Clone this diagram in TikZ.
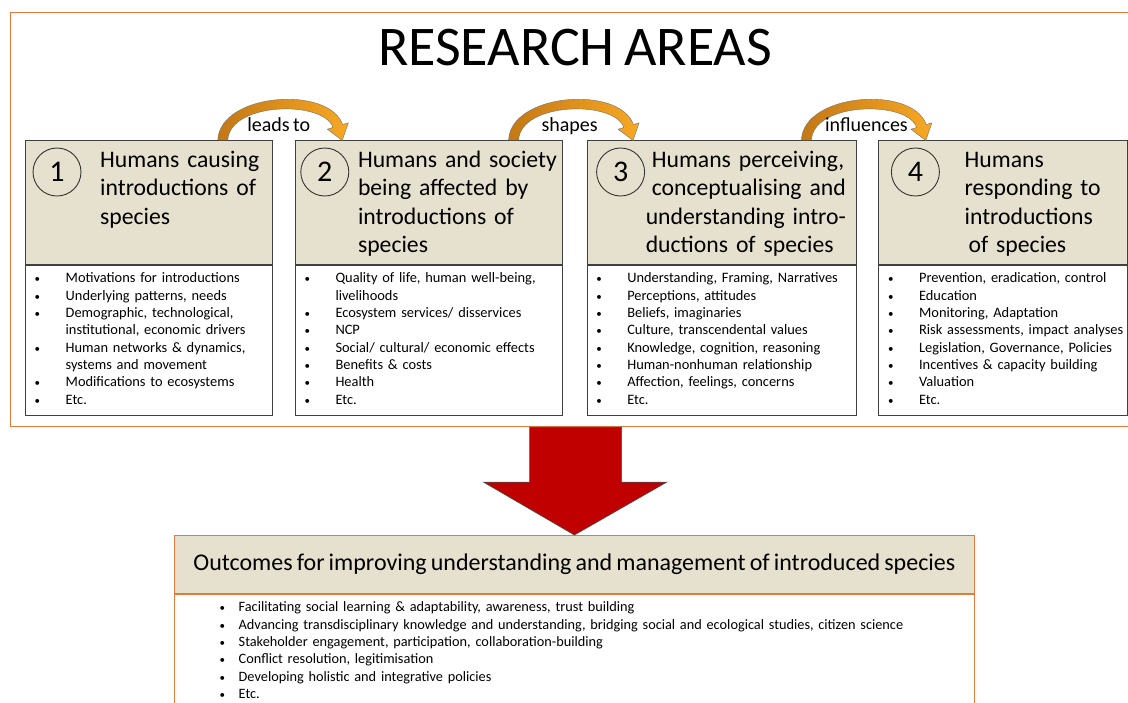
\documentclass[tikz,border=0pt]{standalone}
\usepackage{fontspec}
\setmainfont{Carlito}[WordSpace=0.75]
\usepackage{tikz}
\usetikzlibrary{calc, positioning}

\definecolor{beige}{RGB}{230,225,206}
\definecolor{frameor}{RGB}{226,122,62}
\definecolor{boxline}{RGB}{64,64,64}
\definecolor{arrdark}{RGB}{196,120,20}
\definecolor{arrlight}{RGB}{247,168,36}
\definecolor{bigred}{RGB}{192,0,0}

\newcommand{\itemline}[2][31pt]{\makebox[#1][l]{{\fontsize{11}{11}\selectfont\textbullet}}#2}
\newcommand{\contline}[2][31pt]{\hspace*{#1}#2}

\tikzset{
  head/.style={draw=boxline, fill=beige, line width=0.8pt, anchor=north west, minimum height=124pt, inner sep=0pt},
  body/.style={draw=boxline, fill=white, line width=0.8pt, minimum height=150pt, inner sep=0pt},
  num/.style={circle, draw=black!80, line width=0.9pt, minimum size=48pt, inner sep=0pt, font=\fontsize{30}{30}\selectfont},
  htext/.style={anchor=base west, inner sep=0pt, text width=230pt, align=left, font=\fontsize{23.7}{28.5}\selectfont},
  list/.style={anchor=base west, inner sep=0pt, text width=320pt, align=left, font=\fontsize{14.4}{17.35}\selectfont},
  arrlabel/.style={anchor=base, inner sep=0pt, font=\fontsize{20}{20}\selectfont},
  outhead/.style={draw=frameor, fill=beige, line width=0.8pt, anchor=north west, inner sep=0pt, font=\fontsize{24}{24}\selectfont},
  outbody/.style={draw=frameor, fill=white, line width=0.8pt, inner sep=0pt},
  bendarrow/.pic={
    \path[draw=black!55, line width=0.4pt, left color=arrdark, right color=arrlight]
      (-66,0) .. controls (-64,-47) and (45,-55) .. (58.8,-15.5) -- (64.5,-17.2) -- (58.4,0.5)
      -- (43.5,-10.8) -- (49.2,-12.5) .. controls (40,-40) and (-54,-38) .. (-56,0) -- cycle;
  }
}

\begin{document}
\begin{tikzpicture}[x=1pt, y=-1pt]
    \useasboundingbox (0,0) rectangle (1128,702);
    %外枠とタイトル
    \node[draw=frameor, line width=1.2pt, anchor=north west, minimum width=1130pt, minimum height=414pt, inner sep=0pt] (frame) at (10,12) {};
    \node[anchor=base, inner sep=0pt, font=\fontsize{56}{56}\selectfont] (title) at (575,65) {RESEARCH AREAS};
    %四つの見出しの箱
    \node[head, minimum width=247pt] (h1) at (25,140) {};
    \node[head, minimum width=267pt, right=22pt of h1] (h2) {};
    \node[head, minimum width=269pt, right=24pt of h2] (h3) {};
    \node[head, minimum width=249pt, right=22pt of h3] (h4) {};
    \node[body, minimum width=247pt, below=0pt of h1] (b1) {};
    \node[body, minimum width=267pt, below=0pt of h2] (b2) {};
    \node[body, minimum width=269pt, below=0pt of h3] (b3) {};
    \node[body, minimum width=249pt, below=0pt of h4] (b4) {};
    %番号の丸
    \node[num] (n1) at ($(h1.north west)+(32,32)$) {1};
    \node[num] (n2) at ($(h2.north west)+(30,32)$) {2};
    \node[num] (n3) at ($(h3.north west)+(34,32)$) {3};
    \node[num] (n4) at ($(h4.north west)+(37,32)$) {4};
    %見出しの文
    \node[htext] (t1) at ($(h1.north west)+(75,27)$) {Humans causing\\introductions of\\species};
    \node[htext] (t2) at ($(h2.north west)+(63,27)$) {Humans and society\\being affected by\\introductions of\\species};
    \node[htext] (t3) at ($(h3.north west)+(59,27)$) {\hspace*{6pt}Humans perceiving,\\\hspace*{6pt}conceptualising and\\understanding intro-\\ductions of species};
    \node[htext] (t4) at ($(h4.north west)+(86,27)$) {Humans\\responding to\\introductions\\\hspace*{4pt}of species};
    %箇条書き
    \node[list] (l1) at ($(b1.north west)+(9.5,18)$) {\itemline{Motivations for introductions}\\\itemline{Underlying patterns, needs}\\\itemline{Demographic, technological,}\\\contline{institutional, economic drivers}\\\itemline{Human networks \& dynamics,}\\\contline{systems and movement}\\\itemline{Modifications to ecosystems}\\\itemline{Etc.}};
    \node[list] (l2) at ($(b2.north west)+(9.5,18)$) {\itemline{Quality of life, human well-being,}\\\contline{livelihoods}\\\itemline{Ecosystem services/ disservices}\\\itemline{NCP}\\\itemline{Social/ cultural/ economic effects}\\\itemline{Benefits \& costs}\\\itemline{Health}\\\itemline{Etc.}};
    \node[list] (l3) at ($(b3.north west)+(9.5,18)$) {\itemline{Understanding, Framing, Narratives}\\\itemline{Perceptions, attitudes}\\\itemline{Beliefs, imaginaries}\\\itemline{Culture, transcendental values}\\\itemline{Knowledge, cognition, reasoning}\\\itemline{Human-nonhuman relationship}\\\itemline{Affection, feelings, concerns}\\\itemline{Etc.}};
    \node[list] (l4) at ($(b4.north west)+(9.5,18)$) {\itemline{Prevention, eradication, control}\\\itemline{Education}\\\itemline{Monitoring, Adaptation}\\\itemline{Risk assessments, impact analyses}\\\itemline{Legislation, Governance, Policies}\\\itemline{Incentives \& capacity building}\\\itemline{Valuation}\\\itemline{Etc.}};
    %箱の間の曲がった矢印
    \coordinate (m1) at ($(h1.north east)!.5!(h2.north west)$);
    \coordinate (m2) at ($(h2.north east)!.5!(h3.north west)$);
    \coordinate (m3) at ($(h3.north east)!.5!(h4.north west)$);
    \pic at (m1) {bendarrow};
    \pic at (m2) {bendarrow};
    \pic at (m3) {bendarrow};
    \node[arrlabel] (a1) at ($(m1)+(-5,-8.5)$) {leads to};
    \node[arrlabel] (a2) at ($(m2)+(-5,-8.5)$) {shapes};
    \node[arrlabel] (a3) at ($(m3)+(-1,-8.5)$) {influences};
    %成果の箱
    \node[outhead, minimum width=800pt, minimum height=58pt] (out) at (174,535) {Outcomes for improving understanding and management of introduced species};
    \node[outbody, minimum width=800pt, minimum height=140pt, below=0pt of out] (outb) {};
    \node[list, text width=760pt, font=\fontsize{14.3}{17.35}\selectfont] (lo) at ($(outb.north west)+(45.4,18)$) {\itemline[19.1pt]{Facilitating social learning \& adaptability, awareness, trust building}\\\itemline[19.1pt]{Advancing transdisciplinary knowledge and understanding, bridging social and ecological studies, citizen science}\\\itemline[19.1pt]{Stakeholder engagement, participation, collaboration-building}\\\itemline[19.1pt]{Conflict resolution, legitimisation}\\\itemline[19.1pt]{Developing holistic and integrative policies}\\\itemline[19.1pt]{Etc.}};
    %下向きの赤い矢印
    \coordinate (rt) at (frame.south);
    \draw[fill=bigred, draw=black!70, line width=0.6pt] ($(rt)+(-46,0)$) -- ($(rt)+(46,0)$) -- ($(rt)+(46,55)$) -- ($(rt)+(91,55)$)
      -- (out.north) -- ($(rt)+(-92,55)$) -- ($(rt)+(-46,55)$) -- cycle;
\end{tikzpicture}
\end{document}
